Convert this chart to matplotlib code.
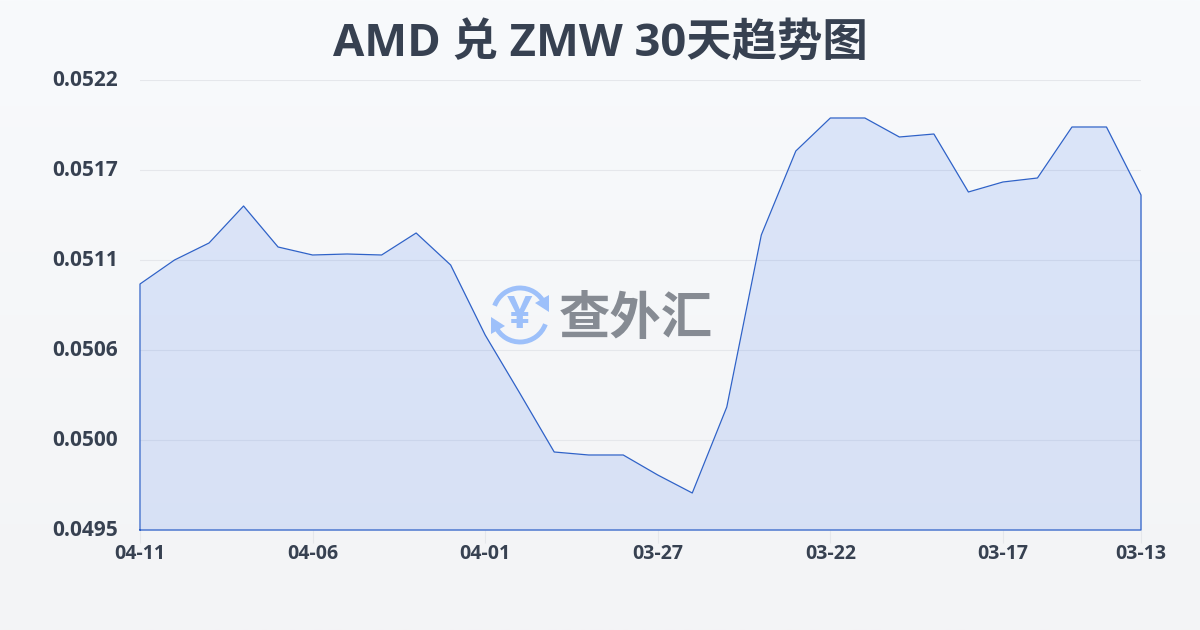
import numpy as np
import matplotlib
matplotlib.use("Agg")
import matplotlib.pyplot as plt
from matplotlib.patches import Arc, Polygon
from matplotlib.transforms import ScaledTranslation

plt.rcParams['font.family'] = ['Open Sans', 'Noto Sans CJK SC', 'DejaVu Sans']

title = "AMD 兑 ZMW 30天趋势图"
dates = ["04-11", "04-06", "04-01", "03-27", "03-22", "03-17", "03-13"]
date_positions = [0, 5, 10, 15, 20, 25, 29]
rates = [0.050976, 0.05112, 0.051222, 0.051444, 0.051198, 0.05115, 0.051156, 0.05115,
         0.051282, 0.05109, 0.05067, 0.050322, 0.049968, 0.04995, 0.04995, 0.04983,
         0.049722, 0.050238, 0.05127, 0.051774, 0.051972, 0.051972, 0.051858, 0.051876,
         0.051528, 0.051588, 0.051612, 0.051918, 0.051918, 0.05151]
y_ticks = [0.0495, 0.05004, 0.05058, 0.05112, 0.05166, 0.0522]
y_labels = ["0.0495", "0.0500", "0.0506", "0.0511", "0.0517", "0.0522"]

W, H = 1200, 630
fig = plt.figure(figsize=(W / 100, H / 100), dpi=100)

bg = fig.add_axes([0, 0, 1, 1], zorder=0)
bg.imshow(np.linspace(0, 1, 256).reshape(-1, 1), aspect='auto', extent=[0, 1, 0, 1],
          cmap=matplotlib.colors.LinearSegmentedColormap.from_list('bg', ['#f8fafc', '#f3f4f6']))
bg.axis('off')

ax = fig.add_axes([140 / W, 1 - 530 / H, 1001 / W, 450 / H], zorder=1)
ax.patch.set_alpha(0)
x = np.arange(len(rates))
ax.set_xlim(0, len(rates) - 1)
ax.set_ylim(y_ticks[0], y_ticks[-1])
ax.fill_between(x, rates, y_ticks[0], color='#2563eb', alpha=0.135, lw=0, zorder=2)
ax.plot(np.r_[x[0], x, x[-1], x[0]], np.r_[y_ticks[0], rates, y_ticks[0], y_ticks[0]],
        color='#2f62c8', lw=0.9, zorder=3, clip_on=False, solid_joinstyle='round')
ax.set_yticks(y_ticks, y_labels)
ax.set_xticks(date_positions, dates)
ax.grid(axis='y', color='#e5e7eb', lw=0.8, zorder=1)
ax.set_axisbelow(True)
for s in ax.spines.values():
    s.set_visible(False)
ax.tick_params(axis='y', length=0, pad=16, labelsize=15, labelcolor='#374151')
ax.tick_params(axis='x', length=9, width=0.8, color='#e5e7eb', pad=1, labelsize=14, labelcolor='#374151')
for t in ax.get_yticklabels():
    t.set_fontweight('bold')
    t.set_transform(t.get_transform() + ScaledTranslation(0, 2 / 100, fig.dpi_scale_trans))
for t in ax.get_xticklabels():
    t.set_fontweight('bold')

fig.text(600 / W, 1 - 45 / H, title, ha='center', va='center', fontsize=32.7,
         fontweight='bold', color='#374151')

# watermark
ov = fig.add_axes([0, 0, 1, 1], zorder=3)
ov.set_xlim(0, W)
ov.set_ylim(H, 0)
ov.axis('off')
blue = '#9dc0fa'
ov.add_patch(Arc((520, 315), 54, 54, theta1=200, theta2=335, color=blue, lw=3.5))
ov.add_patch(Arc((520, 315), 54, 54, theta1=20, theta2=155, color=blue, lw=3.5))
ov.add_patch(Polygon([[549, 295], [549, 312], [535, 303]], color=blue, lw=0))
ov.add_patch(Polygon([[491, 317], [491, 334], [505, 326]], color=blue, lw=0))
ov.text(520, 317, "¥", ha='center', va='center', fontsize=32, fontweight='bold', color=blue)
ov.text(636, 321, "查外汇", ha='center', va='center', fontsize=37, fontweight='bold', color='#868b93')

fig.savefig("out.png", dpi=100)
